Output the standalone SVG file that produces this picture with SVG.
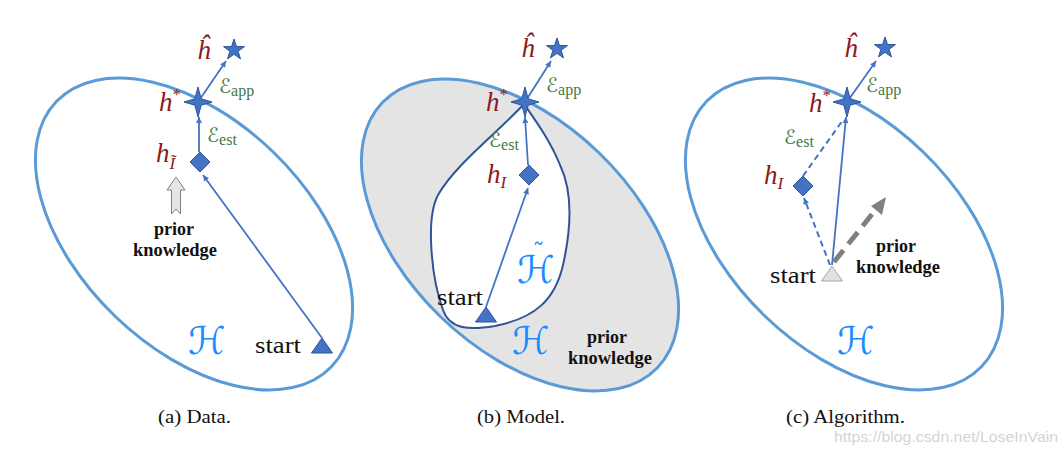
<svg xmlns="http://www.w3.org/2000/svg" xmlns:xlink="http://www.w3.org/1999/xlink" width="1062" height="453" viewBox="0 0 1062 453">
<style>
.ell{fill:none;stroke:#5b9bd5;stroke-width:3}
.node{fill:#4472c4;stroke:#2f5597;stroke-width:1}
.ln{stroke:#4472c4;stroke-width:1.8;fill:none}
.dash{stroke:#4472c4;stroke-width:2;fill:none;stroke-dasharray:6 4}
.hl{font-family:"Liberation Serif",serif;font-style:italic;font-size:27px;fill:#8b1a1a}
.el{font-family:"DejaVu Serif","DejaVu Sans",serif;font-size:20px;fill:#3f7a3f}
.sub{font-family:"Liberation Serif",serif;font-style:normal;font-size:16px}
.st{font-family:"Liberation Serif",serif;font-size:24px;fill:#111}
.pk{font-family:"Liberation Serif",serif;font-weight:bold;font-size:18px;fill:#111;text-anchor:middle}
.H{font-family:"DejaVu Serif","DejaVu Sans",serif;font-style:italic;font-size:38px;fill:#1a8cff}
.cap{font-family:"Liberation Serif",serif;font-size:18px;fill:#111}
</style>
<defs>
<marker id="ah" viewBox="0 0 10 10" refX="10" refY="5" markerWidth="7" markerHeight="6" markerUnits="userSpaceOnUse" orient="auto"><path d="M0,0 L10,5 L0,10 z" fill="#4472c4"/></marker>
<path id="star5" d="M0,-11 L2.5,-3.5 L10.5,-3.4 L4.1,1.3 L6.5,8.9 L0,4.3 L-6.5,8.9 L-4.1,1.3 L-10.5,-3.4 L-2.5,-3.5 Z"/>
<path id="star4" d="M0,-15 L3.2,-3.2 L14,0 L3.2,3.2 L0,15 L-3.2,3.2 L-14,0 L-3.2,-3.2 Z"/>
<path id="dia" d="M0,-10 L10,0 L0,10 L-10,0 Z"/>
<path id="tri" d="M0,0 L10.5,15 L-10.5,15 Z"/>
</defs>

<!-- Panel backgrounds (hypothesis spaces) -->
<g id="space-a"><ellipse class="ell" cx="194" cy="234" rx="191" ry="114" transform="rotate(44 194 234)"/></g>
<g id="space-b">
<ellipse cx="520" cy="235" rx="191" ry="114" transform="rotate(44 520 235)" fill="#e4e4e4" stroke="none"/>
<path id="loop-b" d="M524,104 C495,135 455,165 438,195 C425,220 432,280 443,310 C450,330 470,330 495,326 C535,318 555,300 563,265 C572,225 572,190 560,165 C550,140 535,120 524,104 Z" fill="#ffffff" stroke="#2f5597" stroke-width="2"/>
<ellipse class="ell" cx="520" cy="235" rx="191" ry="114" transform="rotate(44 520 235)"/>
</g>
<g id="space-c"><ellipse class="ell" cx="844" cy="234" rx="191" ry="114" transform="rotate(44 844 234)"/></g>

<g id="connectors">
<line class="ln" x1="198" y1="102" x2="226" y2="61" marker-end="url(#ah)"/>
<line class="ln" x1="199" y1="152" x2="199" y2="117" marker-end="url(#ah)"/>
<line class="ln" x1="322" y1="338" x2="203" y2="175" marker-end="url(#ah)"/>
<line class="ln" x1="525" y1="102" x2="551" y2="61" marker-end="url(#ah)"/>
<line class="ln" x1="528" y1="165" x2="525" y2="117" marker-end="url(#ah)"/>
<line class="ln" x1="486" y1="307" x2="528" y2="188" marker-end="url(#ah)"/>
<line class="ln" x1="847" y1="102" x2="876" y2="61" marker-end="url(#ah)"/>
<line class="ln" x1="832" y1="265" x2="846" y2="117" marker-end="url(#ah)"/>
<line class="dash" x1="803" y1="176" x2="843" y2="120"/>
<line class="dash" x1="830" y1="265" x2="804" y2="198" marker-end="url(#ah)"/>
<line x1="834" y1="262" x2="877" y2="208" stroke="#808080" stroke-width="5" stroke-dasharray="15 8"/>
<path d="M886,197 L882,215 L871,206 Z" fill="#808080"/>
<path id="prior-arrow-a" d="M176,177 L185,190 L180.5,190 L180.5,214 L176,209 L171.5,214 L171.5,190 L167,190 Z" fill="#e6e6e6" stroke="#7f7f7f" stroke-width="1"/>
</g>

<!-- Panel a nodes -->
<g id="a-hhat"><use href="#star5" class="node" x="234" y="50"/><text class="hl" x="197" y="59">ĥ</text></g>
<g id="a-hstar"><use href="#star4" class="node" x="198" y="102"/><text class="hl" x="159" y="111">h<tspan font-size="17" dy="-11" font-style="normal">*</tspan></text></g>
<g id="a-hI"><use href="#dia" class="node" x="200" y="162"/><text class="hl" x="156" y="162">h<tspan font-size="17" dy="7">Ĩ</tspan></text></g>
<g id="a-start"><use href="#tri" class="node" x="322" y="338"/><text class="st" x="255" y="353" textLength="46" lengthAdjust="spacingAndGlyphs">start</text></g>
<g id="a-labels">
<text class="el" x="219" y="93">ℰ<tspan class="sub" dy="3">app</tspan></text>
<text class="el" x="207" y="142">ℰ<tspan class="sub" dy="3">est</tspan></text>
<text class="pk" x="174" y="235">prior</text>
<text class="pk" x="175" y="256" textLength="84" lengthAdjust="spacingAndGlyphs">knowledge</text>
<text class="H" x="188" y="354">ℋ</text>
</g>

<!-- Panel b nodes -->
<g id="b-hhat"><use href="#star5" class="node" x="557" y="49"/><text class="hl" x="521" y="57">ĥ</text></g>
<g id="b-hstar"><use href="#star4" class="node" x="525" y="102"/><text class="hl" x="486" y="111">h<tspan font-size="17" dy="-11" font-style="normal">*</tspan></text></g>
<g id="b-hI"><use href="#dia" class="node" x="529" y="175"/><text class="hl" x="487" y="183">h<tspan font-size="17" dy="5">I</tspan></text></g>
<g id="b-start"><use href="#tri" class="node" x="486" y="307"/><text class="st" x="437" y="305" textLength="46" lengthAdjust="spacingAndGlyphs">start</text></g>
<g id="b-labels">
<text class="el" x="546" y="92">ℰ<tspan class="sub" dy="3">app</tspan></text>
<text class="el" x="489" y="147">ℰ<tspan class="sub" dy="3">est</tspan></text>
<text class="H" x="517" y="283">ℋ<tspan font-size="24" font-style="normal" dx="-22" dy="-22">˜</tspan></text>
<text class="H" x="512" y="354">ℋ</text>
<text class="pk" x="607" y="343">prior</text>
<text class="pk" x="610" y="364" textLength="84" lengthAdjust="spacingAndGlyphs">knowledge</text>
</g>

<!-- Panel c nodes -->
<g id="c-hhat"><use href="#star5" class="node" x="885" y="48"/><text class="hl" x="844" y="57">ĥ</text></g>
<g id="c-hstar"><use href="#star4" class="node" x="847" y="102"/><text class="hl" x="809" y="112">h<tspan font-size="17" dy="-11" font-style="normal">*</tspan></text></g>
<g id="c-hI"><use href="#dia" class="node" x="803" y="186"/><text class="hl" x="764" y="184">h<tspan font-size="17" dy="5">I</tspan></text></g>
<g id="c-start"><use href="#tri" fill="#e0e0e0" stroke="#a6a6a6" stroke-width="1" x="832" y="266"/><text class="st" x="770" y="283" textLength="46" lengthAdjust="spacingAndGlyphs">start</text></g>
<g id="c-labels">
<text class="el" x="866" y="92">ℰ<tspan class="sub" dy="3">app</tspan></text>
<text class="el" x="784" y="144">ℰ<tspan class="sub" dy="3">est</tspan></text>
<text class="pk" x="896" y="252">prior</text>
<text class="pk" x="898" y="273" textLength="84" lengthAdjust="spacingAndGlyphs">knowledge</text>
<text class="H" x="837" y="354">ℋ</text>
</g>

<g id="captions">
<text class="cap" x="158" y="423" textLength="73" lengthAdjust="spacingAndGlyphs">(a) Data.</text>
<text class="cap" x="477" y="423" textLength="88" lengthAdjust="spacingAndGlyphs">(b) Model.</text>
<text class="cap" x="786" y="423" textLength="119" lengthAdjust="spacingAndGlyphs">(c) Algorithm.</text>
<text x="834" y="442" font-family="Liberation Sans,sans-serif" font-size="15" fill="#d4d4d4" textLength="224" lengthAdjust="spacingAndGlyphs">https://blog.csdn.net/LoseInVain</text>
</g>
</svg>
